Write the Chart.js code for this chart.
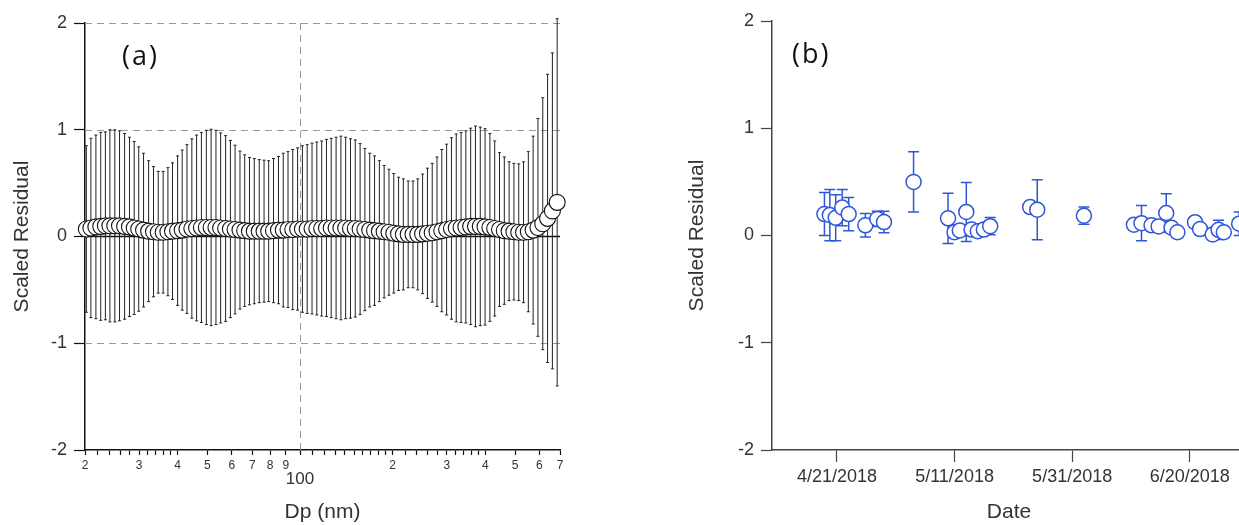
<!DOCTYPE html>
<html lang="en">
<head>
<meta charset="UTF-8">
<script src="https://cdn.jsdelivr.net/npm/chart.js"></script>
<title>Scaled Residual</title>
<style>
  html, body { margin: 0; padding: 0; background: #fff; overflow: hidden; width: 1239px; height: 525px; }
  .panel { position: absolute; top: 0; }
  #boxA { left: 0; }
  #boxB { left: 675px; }
  .tag { position: absolute; font-family: 'Open Sans', sans-serif; font-size: 27px; line-height: 27px; letter-spacing: 2px; color: #111; }
</style>
</head>
<body>
<div class="panel" id="boxA"><canvas id="chartA" width="620" height="525" style="width:620px;height:525px"></canvas></div>
<div class="panel" id="boxB"><canvas id="chartB" width="585" height="525" style="width:585px;height:525px"></canvas></div>
<div class="tag" style="left:122px;top:41px">(a)</div>
<div class="tag" style="left:792px;top:39px">(b)</div>

<script>
// ---- panel (a): residual vs mobility diameter ----
const dp = [
  20.2, 20.9, 21.7, 22.5, 23.3, 24.1, 25.0, 25.9, 26.9, 27.9,
  28.9, 29.9, 31.0, 32.2, 33.4, 34.6, 35.9, 37.2, 38.5, 40.0,
  41.4, 42.9, 44.5, 46.1, 47.8, 49.6, 51.4, 53.3, 55.2, 57.3,
  59.4, 61.5, 63.8, 66.1, 68.5, 71.0, 73.7, 76.4, 79.1, 82.0,
  85.1, 88.2, 91.4, 94.7, 98.2, 101.8, 105.5, 109.4, 113.4, 117.6,
  121.9, 126.3, 131.0, 135.8, 140.7, 145.9, 151.2, 156.8, 162.5, 168.5,
  174.7, 181.1, 187.7, 194.6, 201.7, 209.1, 216.7, 224.7, 232.9, 241.4,
  250.3, 259.5, 269.0, 278.8, 289.0, 299.6, 310.6, 322.0, 333.8, 346.0,
  358.7, 371.8, 385.4, 399.5, 414.2, 429.4, 445.1, 461.4, 478.3, 495.8,
  514.0, 532.8, 552.3, 572.5, 593.5, 615.3, 637.8, 661.2, 685.4
];
const residA = [
  0.07, 0.08, 0.09, 0.095, 0.10, 0.10, 0.10, 0.10, 0.095, 0.09,
  0.08, 0.07, 0.06, 0.05, 0.045, 0.04, 0.04, 0.045, 0.05, 0.055,
  0.06, 0.07, 0.075, 0.08, 0.085, 0.085, 0.085, 0.085, 0.08, 0.075,
  0.07, 0.065, 0.06, 0.055, 0.05, 0.05, 0.05, 0.05, 0.05, 0.055,
  0.06, 0.06, 0.065, 0.065, 0.07, 0.07, 0.07, 0.075, 0.075, 0.075,
  0.08, 0.08, 0.08, 0.08, 0.08, 0.075, 0.075, 0.07, 0.065, 0.06,
  0.055, 0.05, 0.045, 0.04, 0.03, 0.025, 0.02, 0.02, 0.02, 0.02,
  0.025, 0.03, 0.035, 0.045, 0.055, 0.065, 0.075, 0.08, 0.085, 0.09,
  0.095, 0.095, 0.095, 0.09, 0.085, 0.075, 0.065, 0.055, 0.05, 0.045,
  0.04, 0.04, 0.045, 0.06, 0.085, 0.12, 0.17, 0.24, 0.32
];
const errA = [
  0.78, 0.84, 0.86, 0.88, 0.88, 0.90, 0.90, 0.89, 0.87, 0.84,
  0.81, 0.77, 0.72, 0.66, 0.61, 0.57, 0.57, 0.60, 0.64, 0.70,
  0.75, 0.79, 0.84, 0.87, 0.89, 0.91, 0.92, 0.91, 0.89, 0.87,
  0.83, 0.79, 0.74, 0.71, 0.69, 0.68, 0.67, 0.665, 0.66, 0.675,
  0.69, 0.72, 0.73, 0.75, 0.76, 0.78, 0.79, 0.80, 0.81, 0.82,
  0.83, 0.84, 0.85, 0.86, 0.85, 0.84, 0.83, 0.80, 0.76, 0.72,
  0.70, 0.66, 0.62, 0.59, 0.56, 0.53, 0.52, 0.50, 0.50, 0.52,
  0.56, 0.61, 0.65, 0.70, 0.76, 0.80, 0.85, 0.88, 0.89, 0.90,
  0.92, 0.94, 0.93, 0.92, 0.88, 0.82, 0.72, 0.69, 0.65, 0.64,
  0.64, 0.66, 0.75, 0.88, 1.02, 1.18, 1.35, 1.48, 1.72
];
const dpLabelled = [20, 30, 40, 50, 60, 70, 80, 90, 100, 200, 300, 400, 500, 600, 700];
const dpLabelText = ['2', '3', '4', '5', '6', '7', '8', '9', '100', '2', '3', '4', '5', '6', '7'];
const dpMinor = [22, 24, 26, 28, 32, 34, 36, 38, 110, 120, 130, 140, 150, 160, 170, 180, 190,
                 220, 240, 260, 280, 320, 340, 360, 380];

// ---- panel (b): residual vs date ----
const sampleDates = [
  '2018-04-18T21:00', '2018-04-19T19:00', '2018-04-20T19:00', '2018-04-21T21:30', '2018-04-23T00:00',
  '2018-04-25T20:00', '2018-04-27T21:00', '2018-04-29T00:00', '2018-05-04T00:45', '2018-05-09T21:30',
  '2018-05-11T00:00', '2018-05-11T21:30', '2018-05-13T00:00', '2018-05-13T21:30', '2018-05-14T23:00',
  '2018-05-15T23:30', '2018-05-17T01:30', '2018-05-23T20:30', '2018-05-25T01:30', '2018-06-02T00:00',
  '2018-06-10T12:00', '2018-06-11T19:00', '2018-06-13T12:00', '2018-06-14T17:00', '2018-06-16T00:00',
  '2018-06-16T21:30', '2018-06-17T21:30', '2018-06-20T21:30', '2018-06-21T18:00', '2018-06-23T21:30',
  '2018-06-24T21:30', '2018-06-25T19:00', '2018-06-28T09:30'
];
const residB = [
  0.20, 0.19, 0.165, 0.26, 0.20, 0.095, 0.155, 0.125, 0.50, 0.16,
  0.03, 0.047, 0.22, 0.055, 0.04, 0.055, 0.087, 0.265, 0.24, 0.185,
  0.10, 0.115, 0.095, 0.085, 0.21, 0.072, 0.03, 0.124, 0.06, 0.01,
  0.053, 0.03, 0.11
];
const errB = [
  0.20, 0.24, 0.215, 0.17, 0.155, 0.11, 0.07, 0.10, 0.28, 0.235,
  0.05, 0.05, 0.275, 0.05, 0.05, 0.05, 0.08, 0.05, 0.28, 0.08,
  0.05, 0.165, 0.05, 0.05, 0.18, 0.05, 0.05, 0.05, 0.05, 0.05,
  0.09, 0.05, 0.11
];
const dateTicks = ['2018-04-21', '2018-05-11', '2018-05-31', '2018-06-20'];
const dateMin = '2018-04-09T23:00';
const dateMax = '2018-06-29T13:30';
const residTicks = [-2, -1, 0, 1, 2];

const toMs = s => Date.parse(s.length > 10 ? s + ':00Z' : s + 'T00:00:00Z');

Chart.defaults.font.family = "'Liberation Sans', Arial, sans-serif";
Chart.defaults.color = '#333';
Chart.defaults.animation = false;

// vertical error bars drawn under the markers
function makeErrorBars(errs, color, width, cap) {
  return {
    id: 'errorBars',
    beforeDatasetsDraw(chart) {
      const {ctx, scales: {x, y}} = chart;
      const pts = chart.data.datasets[0].data;
      ctx.save();
      ctx.strokeStyle = color;
      ctx.lineWidth = width;
      pts.forEach((p, i) => {
        const px = x.getPixelForValue(p.x);
        const top = y.getPixelForValue(p.y + errs[i]);
        const bot = y.getPixelForValue(p.y - errs[i]);
        ctx.beginPath();
        ctx.moveTo(px, top); ctx.lineTo(px, bot);
        ctx.moveTo(px - cap, top); ctx.lineTo(px + cap, top);
        ctx.moveTo(px - cap, bot); ctx.lineTo(px + cap, bot);
        ctx.stroke();
      });
      ctx.restore();
    }
  };
}

// dashed grid of panel (a) plus the solid zero line
const gridA = {
  id: 'gridA',
  beforeDatasetsDraw(chart) {
    const {ctx, chartArea: a, scales: {x, y}} = chart;
    ctx.save();
    ctx.strokeStyle = '#999';
    ctx.lineWidth = 1;
    ctx.setLineDash([7, 5]);
    [2, 1, -1].forEach(v => {
      const py = Math.round(y.getPixelForValue(v)) + 0.5;
      ctx.beginPath(); ctx.moveTo(a.left, py); ctx.lineTo(a.right, py); ctx.stroke();
    });
    const px = Math.round(x.getPixelForValue(100)) + 0.5;
    ctx.beginPath(); ctx.moveTo(px, a.top); ctx.lineTo(px, a.bottom); ctx.stroke();
    ctx.setLineDash([]);
    ctx.strokeStyle = '#111';
    ctx.lineWidth = 1.5;
    const py0 = y.getPixelForValue(0);
    ctx.beginPath(); ctx.moveTo(a.left, py0); ctx.lineTo(a.right, py0); ctx.stroke();
    ctx.restore();
  }
};

function residAxis(width, axisColor) {
  return {
    min: -2, max: 2,
    afterFit: s => { s.width = width; },
    afterBuildTicks: s => { s.ticks = residTicks.map(v => ({value: v})); },
    ticks: { font: {size: 18}, padding: 7 },
    grid: { drawOnChartArea: false, tickLength: 11, tickColor: axisColor, tickWidth: 1.2 },
    border: { color: axisColor, width: 1.5 },
    title: { display: true, text: 'Scaled Residual', font: {size: 21}, padding: {top: 10, bottom: 0} }
  };
}

new Chart(document.getElementById('chartA'), {
  type: 'scatter',
  data: {
    datasets: [{
      data: dp.map((d, i) => ({x: d, y: residA[i]})),
      pointRadius: 8,
      pointBorderWidth: 1.1,
      pointBackgroundColor: '#fff',
      pointBorderColor: '#111',
      clip: false
    }]
  },
  options: {
    responsive: false,
    layout: { padding: {top: 23, right: 60, bottom: 0, left: 0} },
    plugins: { legend: {display: false}, tooltip: {enabled: false} },
    scales: {
      x: {
        type: 'logarithmic',
        min: 20, max: 700,
        afterFit: s => { s.height = 75; },
        afterBuildTicks: s => {
          s.ticks = dpLabelled.concat(dpMinor).sort((p, q) => p - q).map(v => ({value: v}));
        },
        ticks: {
          autoSkip: false, maxRotation: 0, padding: 3,
          callback: v => {
            const k = dpLabelled.indexOf(v);
            if (k < 0) return '';
            return v === 100 ? ['', dpLabelText[k]] : dpLabelText[k];
          },
          font: c => (c.tick && c.tick.value === 100) ? {size: 17, lineHeight: '14px'} : {size: 12}
        },
        grid: { drawOnChartArea: false, tickLength: 5, tickColor: '#111', tickWidth: 1.2 },
        border: { color: '#111', width: 1.5 },
        title: { display: true, text: 'Dp (nm)', font: {size: 21}, padding: 0 }
      },
      y: residAxis(85, '#111')
    }
  },
  plugins: [gridA, makeErrorBars(errA, '#222', 1, 1.5)]
});

new Chart(document.getElementById('chartB'), {
  type: 'scatter',
  data: {
    datasets: [{
      data: sampleDates.map((d, i) => ({x: toMs(d), y: residB[i]})),
      pointRadius: 7.5,
      pointBorderWidth: 1.5,
      pointBackgroundColor: '#fff',
      pointBorderColor: '#2f55d8',
      clip: false
    }]
  },
  options: {
    responsive: false,
    layout: { padding: {top: 21, right: 14, bottom: 0, left: 0} },
    plugins: { legend: {display: false}, tooltip: {enabled: false} },
    scales: {
      x: {
        type: 'linear',
        min: toMs(dateMin), max: toMs(dateMax),
        afterFit: s => { s.height = 75; },
        afterBuildTicks: s => { s.ticks = dateTicks.map(d => ({value: toMs(d)})); },
        ticks: {
          autoSkip: false, maxRotation: 0, padding: 4, font: {size: 18},
          callback: v => {
            const d = new Date(v);
            return (d.getUTCMonth() + 1) + '/' + d.getUTCDate() + '/' + d.getUTCFullYear();
          }
        },
        grid: { drawOnChartArea: false, tickLength: 12, tickColor: '#444', tickWidth: 1.2 },
        border: { color: '#444', width: 1.5 },
        title: { display: true, text: 'Date', font: {size: 21}, padding: 0 }
      },
      y: residAxis(97, '#444')
    }
  },
  plugins: [makeErrorBars(errB, '#2f55d8', 1.5, 5.5)]
});
</script>
</body>
</html>
